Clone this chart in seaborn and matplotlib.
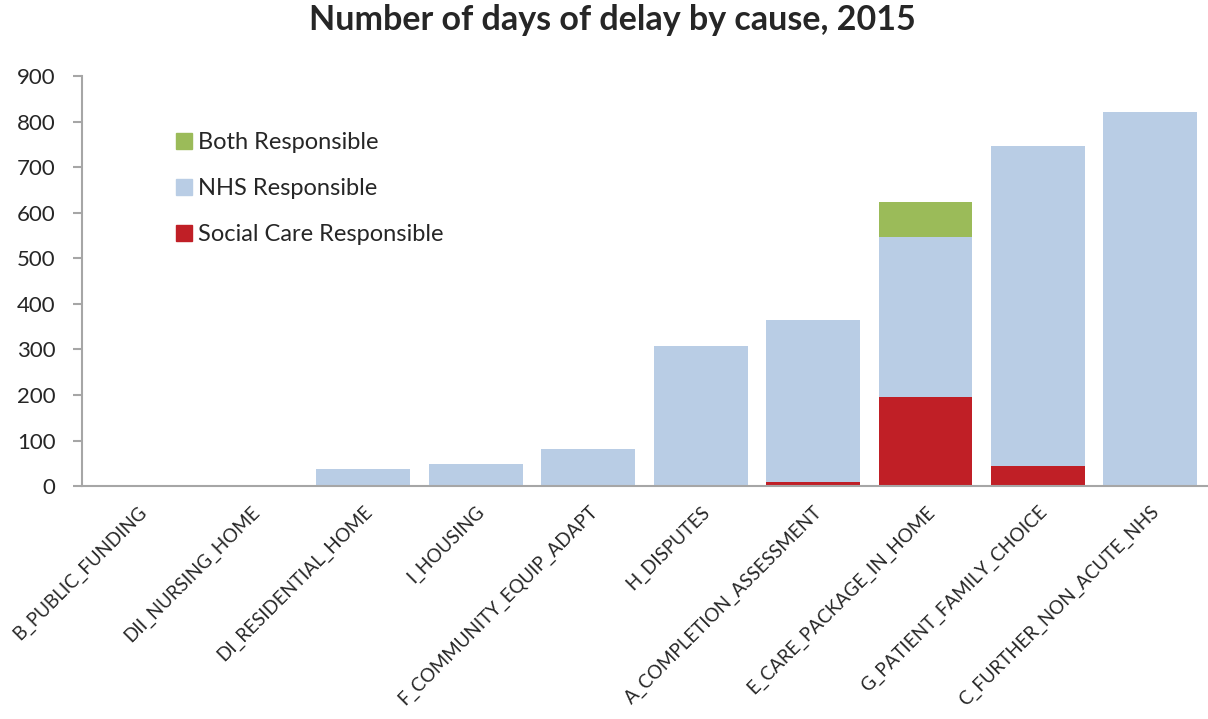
import matplotlib
matplotlib.use("Agg")
import matplotlib.pyplot as plt
import seaborn as sns
import numpy as np
import pandas as pd
from matplotlib.patches import Patch

categories = ["B_PUBLIC_FUNDING", "DII_NURSING_HOME", "DI_RESIDENTIAL_HOME", "I_HOUSING",
              "F_COMMUNITY_EQUIP_ADAPT", "H_DISPUTES", "A_COMPLETION_ASSESSMENT",
              "E_CARE_PACKAGE_IN_HOME", "G_PATIENT_FAMILY_CHOICE", "C_FURTHER_NON_ACUTE_NHS"]
social_care = [0, 0, 0, 0, 0, 0, 9, 195, 45, 0]
nhs = [0, 0, 37, 48, 81, 308, 355, 352, 701, 821]
both = [0, 0, 0, 0, 0, 0, 0, 77, 0, 0]
yticks = [0, 100, 200, 300, 400, 500, 600, 700, 800, 900]

c_both = "#9BBB59"
c_nhs = "#B9CDE5"
c_soc = "#C01F26"
axis_col = "#A6A6A6"
text_col = "#262626"

sns.set_theme(style="white")
plt.rcParams["font.family"] = ["Lato", "DejaVu Sans"]

df = pd.DataFrame({"cause": categories,
                   "soc": social_care,
                   "nhs": nhs,
                   "both": both})
df["lvl1"] = df["soc"]
df["lvl2"] = df["soc"] + df["nhs"]
df["lvl3"] = df["lvl2"] + df["both"]

fig = plt.figure(figsize=(12.08, 7.19), dpi=100)
ax = fig.add_axes([0.0679, 0.324, 0.931, 0.570])

w = 0.835
sns.barplot(data=df, x="cause", y="lvl3", color=c_both, width=w, saturation=1, ax=ax, linewidth=0)
sns.barplot(data=df, x="cause", y="lvl2", color=c_nhs, width=w, saturation=1, ax=ax, linewidth=0)
sns.barplot(data=df, x="cause", y="lvl1", color=c_soc, width=w, saturation=1, ax=ax, linewidth=0)

ax.set_xlim(-0.5, len(categories) - 0.5)
ax.set_ylim(0, 900)
ax.set_yticks(yticks)
ax.set_yticklabels([str(v) for v in yticks], fontsize=16, color=text_col)
ax.set_xlabel("")
ax.set_ylabel("")

ax.set_xticks(range(len(categories)))
ax.set_xticklabels(categories, rotation=45, ha="right", rotation_mode="anchor",
                   fontsize=13.5, color=text_col)
ax.set_xticks(np.arange(-0.5, len(categories), 1.0), minor=True)
ax.tick_params(axis="x", which="major", length=0, pad=12)
ax.tick_params(axis="x", which="minor", length=5, width=1.5, color=axis_col, direction="out")
ax.tick_params(axis="y", which="major", length=6.5, width=1.5, color=axis_col, direction="out",
               pad=12.5, left=True)

for s in ["top", "right"]:
    ax.spines[s].set_visible(False)
for s in ["left", "bottom"]:
    ax.spines[s].set_color(axis_col)
    ax.spines[s].set_linewidth(1.5)

handles = [Patch(color=c_both, label="Both Responsible"),
           Patch(color=c_nhs, label="NHS Responsible"),
           Patch(color=c_soc, label="Social Care Responsible")]
fig.legend(handles=handles, loc="upper left", bbox_to_anchor=(0.138, 0.829),
           frameon=False, fontsize=17, handlelength=0.68, handleheight=0.68,
           handletextpad=0.25, labelspacing=1.05, labelcolor=text_col, borderaxespad=0)

fig.text(0.507, 0.972, "Number of days of delay by cause, 2015", ha="center", va="center",
         fontsize=24.5, fontweight="bold", color=text_col)

fig.savefig("out.png", dpi=100)
